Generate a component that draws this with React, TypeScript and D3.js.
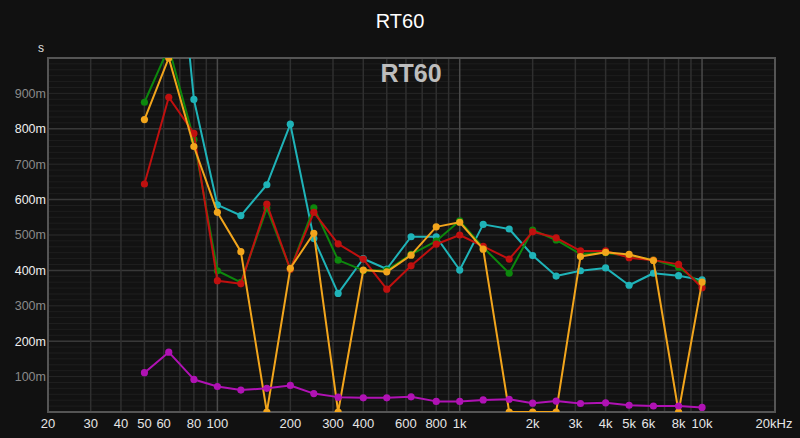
import React from "react";
import * as d3 from "d3";

const freqs = [50, 63, 80, 100, 125, 160, 200, 250, 315, 400, 500, 630, 800, 1000, 1250, 1600, 2000, 2500, 3150, 4000, 5000, 6300, 8000, 10000];

const cyanVals = [1.45, 1.61, 0.883, 0.585, 0.555, 0.642, 0.813, 0.49, 0.335, 0.433, 0.404, 0.495, 0.495, 0.401, 0.53, 0.517, 0.442, 0.384, 0.399, 0.407, 0.358, 0.392, 0.385, 0.373];
const greenVals = [0.875, 1.03, 0.77, 0.399, 0.366, 0.576, 0.403, 0.577, 0.429, 0.4, 0.4, 0.445, 0.483, 0.54, 0.465, 0.392, 0.514, 0.486, 0.446, 0.45, 0.44, 0.43, 0.409, 0.36];
const redVals = [0.644, 0.889, 0.787, 0.371, 0.362, 0.587, 0.403, 0.564, 0.475, 0.432, 0.347, 0.413, 0.474, 0.5, 0.468, 0.432, 0.509, 0.492, 0.455, 0.455, 0.436, 0.429, 0.417, 0.351];
const orangeVals = [0.826, 1.0, 0.75, 0.564, 0.453, 0, 0.406, 0.505, 0, 0.401, 0.396, 0.443, 0.523, 0.536, 0.46, 0, 0, 0, 0.439, 0.451, 0.445, 0.428, 0, 0.367];
const magentaVals = [0.111, 0.169, 0.092, 0.072, 0.062, 0.067, 0.075, 0.052, 0.042, 0.04, 0.04, 0.043, 0.03, 0.03, 0.034, 0.036, 0.025, 0.031, 0.024, 0.026, 0.019, 0.017, 0.017, 0.013];

const seriesList = [
  { name: "cyan", color: "#1fb3b8", values: cyanVals },
  { name: "green", color: "#0d870d", values: greenVals },
  { name: "red", color: "#c0100f", values: redVals },
  { name: "orange", color: "#f2a51c", values: orangeVals },
  { name: "magenta", color: "#b012b4", values: magentaVals },
];

const xTickVals = [20, 30, 40, 50, 60, 80, 100, 200, 300, 400, 600, 800, 1000, 2000, 3000, 4000, 5000, 6000, 8000, 10000, 20000];
const xTickLabels = ["20", "30", "40", "50", "60", "80", "100", "200", "300", "400", "600", "800", "1k", "2k", "3k", "4k", "5k", "6k", "8k", "10k", "20kHz"];
const yTickVals = [0.1, 0.2, 0.3, 0.4, 0.5, 0.6, 0.7, 0.8, 0.9];
const yTickLabels = ["100m", "200m", "300m", "400m", "500m", "600m", "700m", "800m", "900m"];

const W = 800, H = 438;
const L = 48, R = 775, T = 58, B = 412;

export default function App() {
  const x = d3.scaleLog().domain([20, 20000]).range([L, R]);
  const y = d3.scaleLinear().domain([0, 1]).range([B, T]);

  const minorV: number[] = [];
  [10, 100, 1000].forEach((dec) => {
    for (let k = 2; k <= 9; k++) {
      const f = dec * k;
      if (f > 20 && f < 20000) minorV.push(f);
    }
  });
  const majorV = [100, 1000, 10000];
  const fine: number[] = [];
  for (let i = 1; i < 60; i++) fine.push(i / 60);
  const majorH = [0.2, 0.4, 0.6, 0.8];
  const midH = [0.1, 0.3, 0.5, 0.7, 0.9];

  const line = d3
    .line<number>()
    .x((_, i) => x(freqs[i]))
    .y((d) => y(d));

  const font = "'Liberation Sans', Arial, Helvetica, sans-serif";

  return (
    <svg width={W} height={H} style={{ position: "absolute", left: 0, top: 0, display: "block" }}>
      <rect x={0} y={0} width={W} height={H} fill="#111111" />
      <defs>
        <clipPath id="plotclip">
          <rect x={L} y={T} width={R - L} height={B - T} />
        </clipPath>
      </defs>
      <rect x={L} y={T} width={R - L} height={B - T} fill="#121212" />
      {fine.map((v, i) => (
        <line key={"f" + i} x1={L} x2={R} y1={y(v)} y2={y(v)} stroke="#1e1e1e" strokeWidth={1} />
      ))}
      {midH.map((v, i) => (
        <line key={"m" + i} x1={L} x2={R} y1={y(v)} y2={y(v)} stroke="#262626" strokeWidth={1} />
      ))}
      {majorH.map((v, i) => (
        <line key={"M" + i} x1={L} x2={R} y1={y(v)} y2={y(v)} stroke="#383838" strokeWidth={1.5} />
      ))}
      {minorV.map((f, i) => (
        <line key={"v" + i} x1={x(f)} x2={x(f)} y1={T} y2={B} stroke="#2f2f2f" strokeWidth={1.5} />
      ))}
      {majorV.map((f, i) => (
        <line key={"V" + i} x1={x(f)} x2={x(f)} y1={T} y2={B} stroke="#4a4a4a" strokeWidth={1.5} />
      ))}
      <rect x={L} y={T} width={R - L} height={B - T} fill="none" stroke="#555" strokeWidth={2} />

      <text x={411} y={82} textAnchor="middle" fontFamily={font} fontWeight="bold" fontSize={25} fill="#bdbdbd">
        RT60
      </text>

      <g clipPath="url(#plotclip)">
        {seriesList.map((s) => (
          <g key={s.name}>
            <path d={line(s.values) || ""} fill="none" stroke={s.color} strokeWidth={2} strokeLinejoin="round" />
            {s.values.map((v, i) => (
              <circle key={i} cx={x(freqs[i])} cy={y(v)} r={3.6} fill={s.color} />
            ))}
          </g>
        ))}
      </g>

      <text x={400} y={28} textAnchor="middle" fontFamily={font} fontSize={20} fill="#ffffff">
        RT60
      </text>
      <text x={41} y={52} textAnchor="middle" fontFamily={font} fontSize={12} fill="#e0e0e0">
        s
      </text>
      {yTickVals.map((v, i) => (
        <text
          key={"yl" + i}
          x={46}
          y={y(v)}
          dy="0.35em"
          textAnchor="end"
          fontFamily={font}
          fontSize={12.5}
          fill={i % 2 === 1 ? "#eeeeee" : "#8a8a8a"}
        >
          {yTickLabels[i]}
        </text>
      ))}
      {xTickVals.map((f, i) => (
        <text
          key={"xl" + i}
          x={i === xTickVals.length - 1 ? x(f) - 1 : x(f)}
          y={428}
          textAnchor="middle"
          fontFamily={font}
          fontSize={13}
          fill="#e6e6e6"
        >
          {xTickLabels[i]}
        </text>
      ))}
    </svg>
  );
}
